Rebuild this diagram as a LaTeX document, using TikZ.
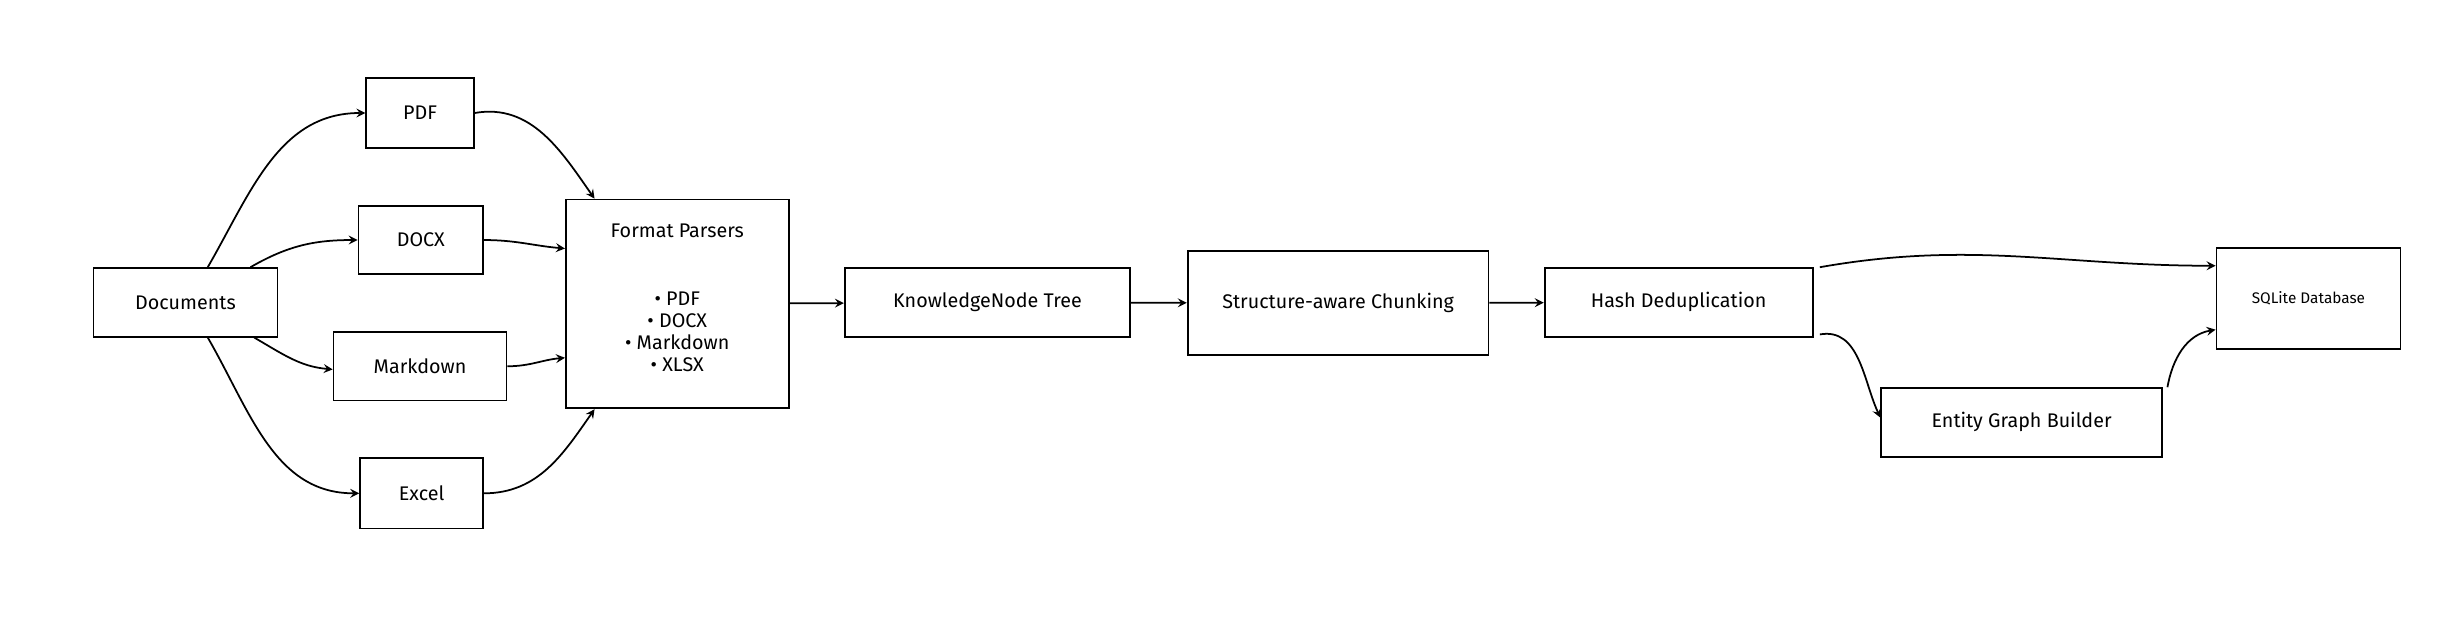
\documentclass[tikz,border=0pt]{standalone}
\usepackage{fontspec}
\setmainfont{Fira Sans}
\usetikzlibrary{calc}

\tikzset{
    box/.style={draw, thick, inner sep=0pt, font=\small},
    flow/.style={->, thick, >=stealth},
}

\begin{document}
\begin{tikzpicture}[x=0.025cm, y=-0.025cm]
    \useasboundingbox (0,0) rectangle (1568,400.3);

    % sources
    \node [box, minimum width=118*0.025cm, minimum height=44*0.025cm] (docs) at (119,194) {Documents};
    \node [box, minimum width=69*0.025cm, minimum height=45*0.025cm] (pdf) at (269.5,72.5) {PDF};
    \node [box, minimum width=80*0.025cm, minimum height=44*0.025cm] (docx) at (270,154) {DOCX};
    \node [box, minimum width=111*0.025cm, minimum height=44*0.025cm] (md) at (269.5,235) {Markdown};
    \node [box, minimum width=79*0.025cm, minimum height=45*0.025cm] (xls) at (270.5,316.5) {Excel};

    % parsers
    \node [box, minimum width=143*0.025cm, minimum height=134*0.025cm] (parsers) at (434.5,195) {};
    \node [font=\small] at (434.5,148) {Format Parsers};
    \node [font=\small, align=center] at (434.5,213) {• PDF\\[-1pt]• DOCX\\[-1pt]• Markdown\\[-1pt]• XLSX};

    % pipeline
    \node [box, minimum width=183*0.025cm, minimum height=44*0.025cm] (tree) at (633.5,194) {KnowledgeNode Tree};
    \node [box, minimum width=193*0.025cm, minimum height=67*0.025cm] (chunk) at (858.5,194.5) {Structure-aware Chunking};
    \node [box, minimum width=172*0.025cm, minimum height=44*0.025cm] (dedup) at (1077,194) {Hash Deduplication};
    \node [box, minimum width=180*0.025cm, minimum height=44*0.025cm] (graph) at (1297,271) {Entity Graph Builder};
    \node [box, font=\scriptsize, minimum width=118*0.025cm, minimum height=65*0.025cm] (db) at (1481,191.5) {SQLite Database};

    % fan out
    \draw [flow] ($(docs.north west)!0.62!(docs.north east)$) to[out=60, in=180] (pdf.west);
    \draw [flow] ($(docs.north west)!0.85!(docs.north east)$) to[out=30, in=180] (docx.west);
    \draw [flow] ($(docs.south west)!0.87!(docs.south east)$) to[out=-30, in=175] ($(md.west)+(0,2)$);
    \draw [flow] ($(docs.south west)!0.62!(docs.south east)$) to[out=-60, in=180] (xls.west);

    % fan in
    \draw [flow] (pdf.east) to[out=10, in=125] ($(parsers.north west)+(19,0)$);
    \draw [flow] (docx.east) to[out=0, in=175] ($(parsers.north west)+(0,32)$);
    \draw [flow] (md.east) to[out=0, in=185] ($(parsers.south west)+(0,-33)$);
    \draw [flow] (xls.east) to[out=0, in=235] ($(parsers.south west)+(19,0)$);

    \draw [flow] (parsers) -- (tree);
    \draw [flow] (tree) -- (chunk);
    \draw [flow] (chunk) -- (dedup);

    \draw [flow] ($(dedup.north east)+(4,0)$) to[out=10, in=180] ($(db.west)+(0,-21)$);
    \draw [flow] ($(dedup.south east)+(4,-2)$) to[out=10, in=115] ($(graph.west)+(0,-3)$);
    \draw [flow] ($(graph.north east)+(3,0)$) to[out=80, in=190] ($(db.west)+(0,20)$);
\end{tikzpicture}
\end{document}
